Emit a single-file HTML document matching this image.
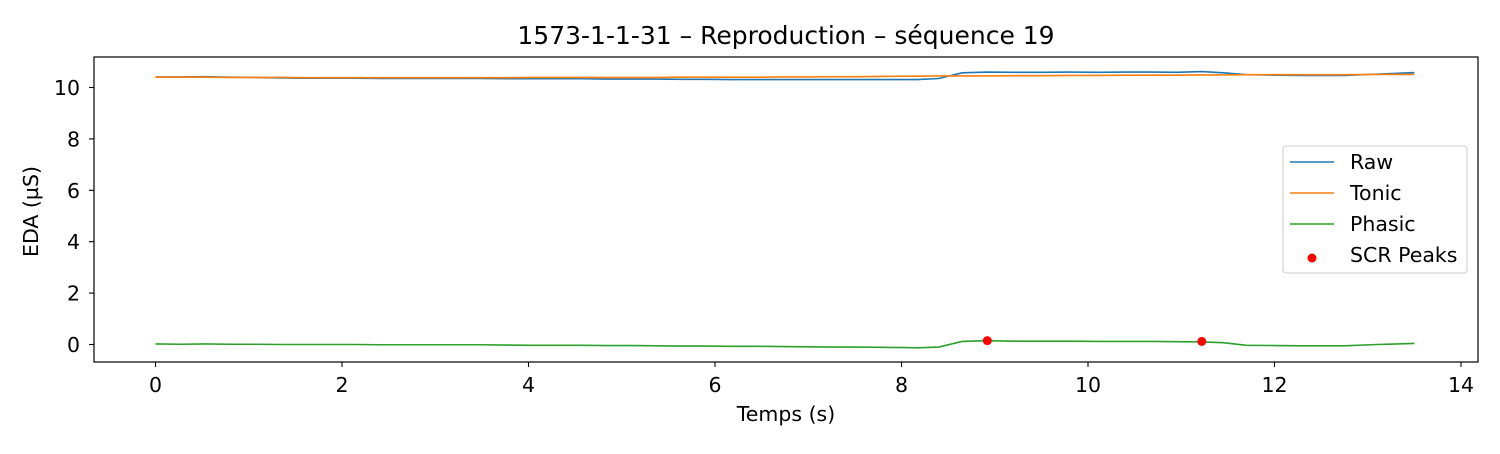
<!DOCTYPE html>
<html><head><meta charset="utf-8"><style>
body{margin:0;background:#fff;font-family:"DejaVu Sans","Liberation Sans",sans-serif}
</style></head><body>
<svg id="chart" width="1500" height="450" xmlns="http://www.w3.org/2000/svg"></svg>
<script>
const times=[0,0.27,0.54,0.8,1.07,1.34,1.61,1.88,2.15,2.41,2.68,2.95,3.22,3.49,3.76,4.02,4.29,4.56,4.83,5.1,5.37,5.63,5.9,6.17,6.44,6.71,6.98,7.24,7.51,7.78,8.05,8.17,8.4,8.65,8.92,9.2,9.5,9.8,10.1,10.4,10.7,10.95,11.22,11.45,11.7,12.0,12.3,12.75,13.1,13.5];
const raw=[10.41,10.41,10.42,10.4,10.39,10.37,10.36,10.36,10.36,10.35,10.35,10.35,10.35,10.35,10.34,10.34,10.34,10.34,10.33,10.33,10.33,10.32,10.32,10.31,10.31,10.31,10.31,10.31,10.31,10.31,10.31,10.31,10.35,10.57,10.6,10.59,10.59,10.6,10.59,10.6,10.6,10.59,10.62,10.57,10.5,10.48,10.47,10.47,10.52,10.58];
const tonic=[10.4,10.4,10.4,10.39,10.39,10.39,10.38,10.38,10.38,10.38,10.38,10.38,10.38,10.38,10.38,10.39,10.39,10.39,10.39,10.39,10.39,10.4,10.4,10.4,10.4,10.41,10.41,10.42,10.42,10.43,10.44,10.44,10.45,10.45,10.45,10.46,10.46,10.47,10.47,10.48,10.48,10.48,10.49,10.49,10.5,10.5,10.5,10.5,10.51,10.51];
const phasic=[0.02,0.01,0.02,0.01,0.01,0.0,0.0,0.0,0.0,-0.01,-0.01,-0.01,-0.01,-0.01,-0.02,-0.03,-0.03,-0.03,-0.04,-0.04,-0.05,-0.06,-0.06,-0.07,-0.07,-0.08,-0.09,-0.1,-0.1,-0.11,-0.12,-0.13,-0.1,0.12,0.15,0.13,0.13,0.13,0.12,0.12,0.12,0.11,0.1,0.07,-0.03,-0.04,-0.05,-0.05,0.0,0.04];
const peakT=[8.92,11.22];
const peakV=[0.15,0.12];
const xTicks=[0,2,4,6,8,10,12,14];
const yTicks=[0,2,4,6,8,10];

const svg=document.getElementById('chart');
const NS='http://www.w3.org/2000/svg';
const L=94,R=1478,T=57,B=362;
const FS=20.5;
const X=v=>155.5+v*(1461-155.5)/14;
const Y=v=>344.5-v*(344.5-87.5)/10;
function mk(tag,attrs,parent){const e=document.createElementNS(NS,tag);for(const k in attrs)e.setAttribute(k,attrs[k]);(parent||svg).appendChild(e);return e;}
function txt(s,attrs){const e=mk('text',attrs);e.textContent=s;return e;}

const frame=mk('rect',{x:L,y:T,width:R-L,height:B-T,fill:'none',stroke:'#000','stroke-width':1.2});



xTicks.forEach(t=>{
  const l=mk('line',{x1:X(t),x2:X(t),y1:B,y2:B+5,stroke:'#000','stroke-width':1.1});
  
  
  const s=txt(String(t),{x:X(t),y:B+30,'text-anchor':'middle','font-size':FS});
  
  
});
yTicks.forEach(t=>{
  const l=mk('line',{x1:L-5,x2:L,y1:Y(t),y2:Y(t),stroke:'#000','stroke-width':1.1});
  
  
  const s=txt(String(t),{x:L-14,y:Y(t)+7.5,'text-anchor':'end','font-size':FS});
  
  
});
function line(vals,color,name){
  const p=mk('polyline',{points:times.map((t,i)=>X(t)+','+Y(vals[i])).join(' '),fill:'none',stroke:color,'stroke-width':1.6});
  
  
}
line(raw,'#1f77b4','raw-line');
line(tonic,'#ff7f0e','tonic-line');
line(phasic,'#2ca02c','phasic-line');
peakT.forEach((t,i)=>{
  const c=mk('circle',{cx:X(t),cy:Y(peakV[i]),r:4.5,fill:'#ff0000'});
  
  
});
const title=txt('1573-1-1-31 – Reproduction – séquence 19',{x:(L+R)/2,y:44,'text-anchor':'middle','font-size':25});


const xl=txt('Temps (s)',{x:(L+R)/2,y:421,'text-anchor':'middle','font-size':FS});


const yl=txt('EDA (µS)',{x:38,y:(T+B)/2+2,'text-anchor':'middle','font-size':FS,transform:`rotate(-90 38 ${(T+B)/2+2})`});



const lg=mk('g',{});


mk('rect',{x:1283,y:146,width:184,height:127,rx:3,fill:'#fff',stroke:'#ccc','stroke-width':1},lg);
const entries=[['Raw','#1f77b4','line'],['Tonic','#ff7f0e','line'],['Phasic','#2ca02c','line'],['SCR Peaks','#ff0000','dot']];
entries.forEach((e,i)=>{
  const y=162+i*31;
  const g=mk('g',{},lg);
  
  
  if(e[2]==='line')mk('line',{x1:1290,x2:1334,y1:y,y2:y,stroke:e[1],'stroke-width':1.6},g);
  else mk('circle',{cx:1312,cy:y+3,r:4.5,fill:e[1]},g);
  const t=mk('text',{x:1350,y:y+7,'font-size':FS},g);t.textContent=e[0];
});
</script>
</body></html>
